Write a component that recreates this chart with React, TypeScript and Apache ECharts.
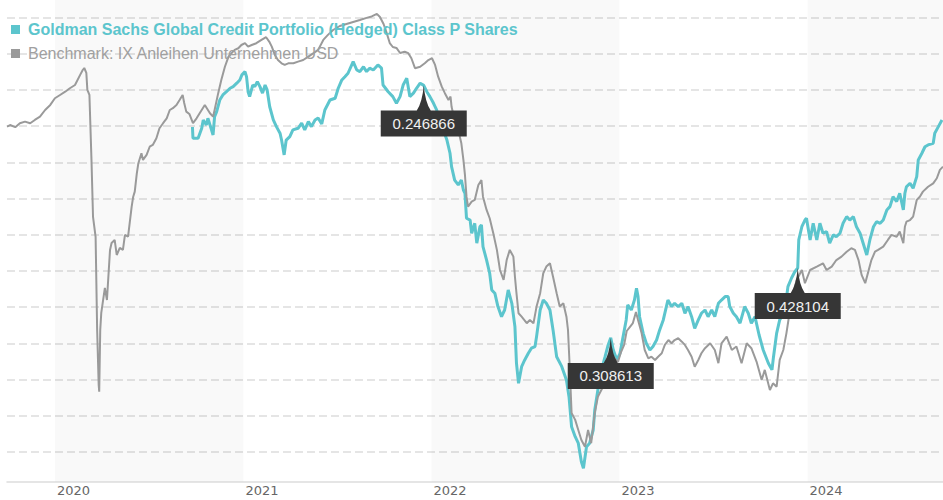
import React, { useEffect, useRef } from "react";
import * as echarts from "echarts";

const fundName = "Goldman Sachs Global Credit Portfolio (Hedged) Class P Shares";
const benchName = "Benchmark: IX Anleihen Unternehmen USD";

const benchDates = [
  "2019-09-30","2019-10-06","2019-10-16","2019-10-25","2019-11-04","2019-11-14","2019-11-23","2019-12-03","2019-12-13","2019-12-23",
  "2020-01-01","2020-01-11","2020-01-21","2020-01-30","2020-02-09","2020-02-19","2020-02-24","2020-02-27","2020-03-02","2020-03-04",
  "2020-03-08","2020-03-12","2020-03-15","2020-03-20","2020-03-23","2020-03-26","2020-03-27","2020-03-29","2020-03-31","2020-04-07",
  "2020-04-11","2020-04-17","2020-04-20","2020-04-26","2020-04-30","2020-05-06","2020-05-12","2020-05-16","2020-05-22","2020-05-29",
  "2020-06-01","2020-06-04","2020-06-08","2020-06-11","2020-06-17","2020-06-20","2020-06-27","2020-07-03","2020-07-09","2020-07-16",
  "2020-07-22","2020-07-29","2020-08-05","2020-08-11","2020-08-17","2020-08-24","2020-08-30","2020-09-05","2020-09-08","2020-09-12",
  "2020-09-18","2020-09-25","2020-10-02","2020-10-08","2020-10-18","2020-10-28","2020-11-03","2020-11-06","2020-11-13","2020-11-19",
  "2020-11-26","2020-12-03","2020-12-09","2020-12-15","2020-12-22","2020-12-28","2021-01-04","2021-01-10","2021-01-17","2021-01-26",
  "2021-02-05","2021-02-14","2021-02-20","2021-02-25","2021-03-03","2021-03-09","2021-03-16","2021-03-22","2021-03-29","2021-04-08",
  "2021-04-17","2021-04-27","2021-05-07","2021-05-17","2021-05-26","2021-06-05","2021-06-14","2021-06-24","2021-07-07","2021-07-20",
  "2021-08-02","2021-08-15","2021-08-28","2021-09-07","2021-09-17","2021-09-23","2021-09-30","2021-10-06","2021-10-12","2021-10-18",
  "2021-10-25","2021-11-01","2021-11-10","2021-11-17","2021-11-23","2021-11-30","2021-12-10","2021-12-19","2021-12-26","2022-01-02",
  "2022-01-08","2022-01-14","2022-01-21","2022-01-27","2022-02-03","2022-02-07","2022-02-09","2022-02-15","2022-02-22","2022-02-28",
  "2022-03-04","2022-03-07","2022-03-10","2022-03-13","2022-03-20","2022-03-26","2022-04-02","2022-04-08","2022-04-11","2022-04-18",
  "2022-04-24","2022-05-01","2022-05-08","2022-05-14","2022-05-21","2022-05-27","2022-06-02","2022-06-09","2022-06-12","2022-06-15",
  "2022-06-19","2022-06-25","2022-07-05","2022-07-11","2022-07-18","2022-07-24","2022-07-31","2022-08-06","2022-08-12","2022-08-19",
  "2022-08-25","2022-09-01","2022-09-07","2022-09-14","2022-09-20","2022-09-23","2022-09-26","2022-09-30","2022-10-07","2022-10-13",
  "2022-10-19","2022-10-26","2022-11-01","2022-11-07","2022-11-14","2022-11-20","2022-11-30","2022-12-10","2022-12-20","2022-12-29",
  "2023-01-04","2023-01-10","2023-01-15","2023-01-21","2023-01-27","2023-02-02","2023-02-06","2023-02-13","2023-02-19","2023-02-26",
  "2023-03-04","2023-03-11","2023-03-17","2023-03-24","2023-03-30","2023-04-06","2023-04-12","2023-04-18","2023-04-25","2023-05-02",
  "2023-05-08","2023-05-14","2023-05-21","2023-05-27","2023-06-03","2023-06-09","2023-06-16","2023-06-26","2023-07-05","2023-07-12",
  "2023-07-18","2023-07-28","2023-08-07","2023-08-16","2023-08-26","2023-09-05","2023-09-14","2023-09-24","2023-10-04","2023-10-10",
  "2023-10-20","2023-10-26","2023-11-02","2023-11-08","2023-11-15","2023-11-21","2023-11-27","2023-12-04","2023-12-11","2023-12-21",
  "2023-12-27","2024-01-06","2024-01-19","2024-01-31","2024-02-07","2024-02-17","2024-02-26","2024-03-07","2024-03-17","2024-03-26",
  "2024-04-02","2024-04-09","2024-04-15","2024-04-22","2024-04-28","2024-05-04","2024-05-11","2024-05-17","2024-05-27","2024-06-05",
  "2024-06-12","2024-06-22","2024-06-28","2024-07-05","2024-07-08","2024-07-11","2024-07-18","2024-07-24","2024-07-31","2024-08-06",
  "2024-08-12","2024-08-22","2024-09-01","2024-09-08","2024-09-14","2024-09-20",
];
const benchValues = [
  97.97,98.06,97.94,98.16,98.25,98.16,98.34,98.52,98.89,99.17,
  99.54,99.72,99.9,100.09,100.27,100.83,101.1,101.21,100.94,100.0,
  99.72,96.13,92.98,91.88,86.74,83.7,83.33,86.74,87.68,89.06,
  88.39,91.16,91.54,91.71,90.88,91.27,91.16,91.99,91.89,93.55,
  94.1,94.38,95.39,95.95,96.5,96.13,96.41,96.86,96.96,97.33,
  97.88,98.16,98.43,98.89,98.99,99.17,99.44,99.72,99.28,98.8,
  98.67,98.16,98.43,98.71,99.17,98.71,98.52,98.89,99.82,100.55,
  101.28,101.84,102.03,102.21,102.3,102.48,102.58,102.39,102.48,102.58,
  102.76,102.91,102.67,102.39,101.93,101.65,101.47,101.38,101.47,101.47,
  101.56,101.65,101.84,102.03,102.21,102.76,103.04,103.31,103.53,103.64,
  103.75,103.86,103.98,104.06,104.2,104.03,103.64,103.15,102.59,102.37,
  102.32,102.04,102.11,102.03,101.75,101.2,101.28,101.47,101.65,101.75,
  101.38,100.73,100.18,99.82,99.44,99.63,99.07,98.34,97.79,97.05,
  96.13,95.3,94.1,93.55,93.83,93.92,94.75,95.02,94.1,93.37,
  92.91,92.08,91.16,90.05,89.5,90.6,91.16,90.79,89.68,88.77,
  87.66,87.47,87.11,87.29,87.11,88.03,88.77,89.87,90.24,90.42,
  89.68,88.77,88.03,88.21,87.47,86.74,84.91,82.15,81.77,81.21,
  80.66,80.29,81.21,80.48,82.14,83.05,83.6,84.53,85.25,84.97,
  85.52,85.91,86.68,86.9,87.12,87.73,87.29,86.55,85.63,85.17,
  85.26,85.08,85.26,85.45,85.91,86.18,86.0,86.18,86.28,86.09,
  85.91,85.63,85.26,84.71,85.08,85.45,85.73,86.0,85.63,84.9,
  86.0,86.37,85.63,85.82,84.9,86.0,85.73,84.99,83.97,84.53,
  83.42,83.79,83.6,85.08,85.63,86.55,87.66,88.77,89.5,90.05,
  89.32,90.05,90.24,90.42,90.05,90.24,90.6,90.79,91.06,91.25,
  91.16,90.6,89.78,89.32,89.96,90.6,91.06,91.16,91.34,91.71,
  91.99,91.89,92.17,91.53,92.44,92.72,92.81,93.0,93.92,94.1,
  94.38,94.65,94.84,95.12,95.58,95.76,
];

const fundDates = [
  "2020-09-24","2020-09-25","2020-10-05","2020-10-12","2020-10-15","2020-10-21","2020-10-24","2020-10-31","2020-11-03","2020-11-06",
  "2020-11-10","2020-11-16","2020-11-22","2020-11-29","2020-12-06","2020-12-12","2020-12-19","2020-12-25","2020-12-29","2021-01-04",
  "2021-01-07","2021-01-10","2021-01-13","2021-01-19","2021-01-23","2021-01-28","2021-02-02","2021-02-07","2021-02-12","2021-02-16",
  "2021-02-21","2021-02-28","2021-03-06","2021-03-13","2021-03-16","2021-03-21","2021-03-25","2021-04-01","2021-04-07","2021-04-17",
  "2021-04-24","2021-04-30","2021-05-07","2021-05-13","2021-05-20","2021-05-26","2021-06-02","2021-06-08","2021-06-18","2021-06-28",
  "2021-07-04","2021-07-11","2021-07-17","2021-07-23","2021-08-02","2021-08-09","2021-08-15","2021-08-22","2021-08-28","2021-09-03",
  "2021-09-10","2021-09-19","2021-09-26","2021-09-29","2021-10-09","2021-10-18","2021-10-25","2021-11-01","2021-11-07","2021-11-14",
  "2021-11-20","2021-11-27","2021-12-03","2021-12-10","2021-12-17","2021-12-23","2021-12-29","2022-01-05","2022-01-11","2022-01-18",
  "2022-01-24","2022-01-31","2022-02-06","2022-02-09","2022-02-15","2022-02-22","2022-02-28","2022-03-04","2022-03-07","2022-03-10",
  "2022-03-17","2022-03-20","2022-03-26","2022-03-30","2022-04-05","2022-04-08","2022-04-11","2022-04-18","2022-04-24","2022-04-28",
  "2022-05-04","2022-05-10","2022-05-17","2022-05-23","2022-05-30","2022-06-06","2022-06-12","2022-06-15","2022-06-19","2022-06-25",
  "2022-07-01","2022-07-08","2022-07-14","2022-07-21","2022-07-24","2022-07-31","2022-08-06","2022-08-12","2022-08-19","2022-08-25",
  "2022-09-01","2022-09-11","2022-09-20","2022-09-25","2022-09-30","2022-10-07","2022-10-13","2022-10-19","2022-10-23","2022-10-29",
  "2022-11-04","2022-11-11","2022-11-14","2022-11-20","2022-11-27","2022-12-04","2022-12-10","2022-12-15","2022-12-20","2022-12-27",
  "2023-01-02","2023-01-08","2023-01-14","2023-01-17","2023-01-24","2023-01-30","2023-02-03","2023-02-06","2023-02-09","2023-02-16",
  "2023-02-22","2023-03-01","2023-03-07","2023-03-14","2023-03-20","2023-03-27","2023-04-02","2023-04-05","2023-04-12","2023-04-18",
  "2023-04-25","2023-05-02","2023-05-08","2023-05-14","2023-05-21","2023-05-27","2023-06-03","2023-06-09","2023-06-16","2023-06-22",
  "2023-06-29","2023-07-05","2023-07-12","2023-07-18","2023-07-25","2023-07-31","2023-08-03","2023-08-10","2023-08-16","2023-08-23",
  "2023-09-01","2023-09-08","2023-09-14","2023-09-21","2023-09-29","2023-10-07","2023-10-17","2023-10-24","2023-10-27","2023-11-02",
  "2023-11-08","2023-11-18","2023-11-24","2023-12-01","2023-12-07","2023-12-13","2023-12-15","2023-12-21","2023-12-27","2023-12-30",
  "2024-01-06","2024-01-12","2024-01-19","2024-01-25","2024-01-31","2024-02-07","2024-02-13","2024-02-20","2024-02-26","2024-03-04",
  "2024-03-10","2024-03-17","2024-03-23","2024-03-30","2024-04-05","2024-04-12","2024-04-18","2024-04-25","2024-05-01","2024-05-08",
  "2024-05-14","2024-05-21","2024-05-27","2024-06-03","2024-06-09","2024-06-15","2024-06-22","2024-06-28","2024-07-05","2024-07-08",
  "2024-07-11","2024-07-18","2024-07-24","2024-07-31","2024-08-03","2024-08-10","2024-08-16","2024-08-22","2024-09-01","2024-09-04",
  "2024-09-11","2024-09-18",
];
const fundValues = [
  97.95,97.33,97.33,97.88,98.34,98.06,98.43,97.79,97.51,98.52,
  98.8,99.44,99.72,99.9,100.09,100.18,100.37,100.55,100.83,101.01,
  100.73,99.9,99.63,100.27,100.18,100.46,100.18,99.82,100.27,100.0,
  99.07,98.34,97.97,97.61,97.23,96.41,97.23,97.42,97.79,97.88,
  98.16,97.79,98.25,97.97,98.34,98.45,98.12,98.89,99.44,99.54,
  100.09,100.55,100.73,100.92,101.56,101.1,101.01,101.28,101.01,101.2,
  101.1,101.38,101.2,100.27,99.9,99.63,99.26,99.63,100.27,100.64,
  99.63,99.82,100.09,100.37,100.25,99.9,99.63,99.26,98.89,98.34,
  97.79,97.23,96.5,95.76,95.02,94.75,95.02,94.47,94.29,92.91,
  92.81,92.08,92.63,91.53,92.44,92.54,91.34,90.6,89.87,88.95,
  88.77,88.03,87.47,87.84,88.95,88.21,86.92,84.9,83.79,84.71,
  85.08,85.45,85.73,85.82,86.37,87.84,88.39,88.21,87.84,86.74,
  85.26,84.71,83.97,83.05,81.39,80.84,80.48,79.46,79.1,80.29,
  80.48,81.21,82.32,83.42,84.53,85.26,85.91,86.3,85.63,85.08,
  85.45,86.37,87.29,88.12,87.84,88.39,89.04,88.58,87.47,86.55,
  86.0,85.63,85.82,86.18,86.74,87.29,88.03,88.39,88.03,88.21,
  88.03,88.21,87.66,88.03,87.47,86.83,87.29,87.66,87.84,87.47,
  87.84,87.47,88.21,88.39,88.58,88.58,88.03,87.66,87.47,87.11,
  88.03,87.66,87.11,87.47,86.46,85.63,84.9,84.53,85.26,86.55,
  87.29,87.84,89.13,89.61,89.94,90.16,91.71,92.44,92.81,92.91,
  91.71,92.63,91.71,92.63,92.08,92.17,91.53,91.99,91.89,92.08,
  92.63,93.0,92.81,93.0,92.44,92.08,91.53,90.88,91.71,92.44,
  92.72,92.63,92.81,93.37,93.55,94.1,93.83,94.29,93.37,94.29,
  94.65,94.84,94.57,95.21,96.13,96.5,96.86,96.96,97.05,97.61,
  97.97,98.34,
];

const distributionDates = ["2021-12-17", "2022-12-15", "2023-12-13"];
const distributionLabels = ["0.246866", "0.308613", "0.428104"];
const yearStarts = ["2020-01-01", "2021-01-01", "2022-01-01", "2023-01-01", "2024-01-01"];
const shadedYears = [
  ["2020-01-01", "2021-01-01"],
  ["2022-01-01", "2023-01-01"],
  ["2024-01-01", "2024-09-20"],
];
const axisStart = "2019-09-30";
const axisEnd = "2024-09-20";

const TEAL = "#5cc5cd";
const GREY = "#9a9a9a";

const ts = (s: string) => new Date(s + "T00:00:00").getTime();

export default function App() {
  const ref = useRef<HTMLDivElement>(null);
  useEffect(() => {
    const chart = echarts.init(ref.current!, null, { renderer: "svg" });
    const fundData = fundDates.map((d, i) => [ts(d), fundValues[i]]);
    const benchData = benchDates.map((d, i) => [ts(d), benchValues[i]]);
    chart.setOption({
      animation: false,
      textStyle: { fontFamily: "'Liberation Sans', Arial, sans-serif" },
      grid: { left: 7, right: 0, top: 0, bottom: 18.5 },
      legend: {
        orient: "vertical",
        left: 11,
        top: 21.5,
        padding: 0,
        itemGap: 8,
        itemWidth: 9,
        itemHeight: 9,
        icon: "rect",
        selectedMode: false,
        textStyle: { fontSize: 16, lineHeight: 16, padding: [0, 0, 0, 3], fontFamily: "'Liberation Sans', Arial, sans-serif" },
        data: [
          { name: fundName, textStyle: { color: TEAL, fontWeight: "bold" } },
          { name: benchName, textStyle: { color: "#a0a0a0", fontWeight: "normal" } },
        ],
      },
      xAxis: {
        type: "value",
        min: ts(axisStart),
        max: ts(axisEnd),
        axisLine: { show: true, lineStyle: { color: "#dddddd", width: 1.5 } },
        axisTick: { show: false },
        splitLine: { show: false },
        axisLabel: {
          customValues: yearStarts.map(ts),
          formatter: (v: number) => String(new Date(v).getFullYear()),
          align: "left",
          padding: [0, 0, 0, 2],
          margin: 2,
          color: "#666",
          fontSize: 13,
          fontFamily: "'DejaVu Sans', Verdana, sans-serif",
          hideOverlap: false,
        },
      },
      yAxis: {
        type: "value",
        min: 78.365,
        max: 104.967,
        splitNumber: 13,
        axisLabel: { show: false },
        axisLine: { show: false },
        axisTick: { show: false },
        splitLine: {
          show: true,
          showMinLine: false,
          showMaxLine: false,
          lineStyle: { color: "#dddddd", width: 1.5, type: [8, 4] },
        },
      },
      series: [
        {
          name: fundName,
          type: "line",
          data: fundData,
          showSymbol: false,
          symbol: "none",
          color: TEAL,
          lineStyle: { color: TEAL, width: 3 },
          itemStyle: { color: TEAL },
          z: 2,
          markPoint: {
            silent: true,
            symbol: "path://M43,0 Q44.5,17 50,25 L86,25 L86,51 L0,51 L0,25 L36,25 Q41.5,17 43,0 Z",
            symbolSize: [86, 51],
            symbolOffset: [0, 25.5],
            itemStyle: { color: "#363636" },
            label: {
              show: true,
              position: "inside",
              offset: [0, 12.5],
              color: "#f0f0f0",
              fontSize: 15,
              fontFamily: "'Liberation Sans', Arial, sans-serif",
              formatter: "{b}",
            },
            data: distributionDates.map((d, i) => ({
              name: distributionLabels[i],
              coord: [ts(d), fundValues[fundDates.indexOf(d)]],
            })),
          },
        },
        {
          name: benchName,
          type: "line",
          data: benchData,
          showSymbol: false,
          symbol: "none",
          color: GREY,
          lineStyle: { color: GREY, width: 2 },
          itemStyle: { color: GREY },
          z: 3,
          markArea: {
            silent: true,
            itemStyle: { color: "rgba(0,0,0,0.025)" },
            label: { show: false },
            data: shadedYears.map(([a, b]) => [{ xAxis: ts(a) }, { xAxis: ts(b) }]),
          },
        },
      ],
    });
    return () => chart.dispose();
  }, []);
  return <div ref={ref} style={{ position: "absolute", left: 0, top: 0, width: 943, height: 500 }} />;
}
